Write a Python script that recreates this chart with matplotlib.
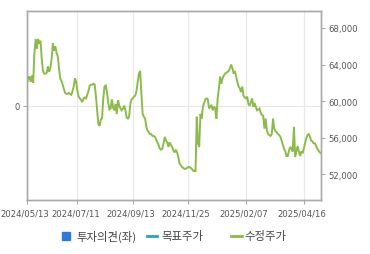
import matplotlib
matplotlib.use("Agg")
import matplotlib.pyplot as plt
import matplotlib.transforms as mtransforms
from matplotlib.patches import Rectangle
from matplotlib.lines import Line2D

# ---- data ----
prices = [
    61900, 62500, 62700, 62100, 62800, 62000, 65200, 66800, 65700, 66800,
    66300, 66600, 64600, 63300, 63000, 63000, 63100, 63800, 63200, 63600,
    64600, 66300, 65500, 66000, 65300, 64900, 63600, 62500, 62200, 61800,
    61300, 60900, 60800, 60800, 60900, 60800, 60700, 61100, 61600, 62500,
    62100, 61100, 60500, 60300, 60100, 59900, 60300, 60400, 60300, 60700,
    61100, 61700, 61800, 61800, 61900, 61800, 60600, 59000, 57500, 57300,
    58000, 58100, 60300, 61600, 61700, 61000, 59900, 59100, 59200, 60200,
    59300, 59000, 59700, 58600, 60100, 59500, 59200, 59000, 59200, 59500,
    59000, 58200, 58100, 58300, 59700, 60200, 60300, 60500, 60600, 61100,
    62100, 63000, 63300, 60800, 58600, 58300, 58100, 57200, 56800, 56600,
    56400, 56400, 56200, 56200, 56100, 55800, 55500, 55200, 54800, 54700,
    54800, 55400, 56100, 55700, 55500, 55000, 55500, 55200, 55000, 54600,
    54400, 54700, 54400, 53900, 53200, 53000, 52800, 52700, 52600, 52600,
    52700, 52800, 52800, 52700, 52600, 52400, 52400, 52300, 58300, 55400,
    55000, 58600, 58100, 59400, 59800, 60200, 60300, 60200, 59200, 59400,
    59600, 59000, 59400, 59200, 58100, 60300, 61400, 62700, 61900, 62500,
    62800, 63000, 63100, 63200, 63300, 63600, 64000, 63600, 63000, 63300,
    62700, 62100, 61600, 61400, 61000, 61600, 60600, 60400, 60300, 60500,
    59700, 59500, 59900, 60300, 59400, 59800, 59400, 59000, 59100, 59200,
    58700, 58500, 58400, 57000, 58100, 56800, 56400, 56300, 56200, 56400,
    58100, 57000, 56700, 56600, 56400, 56300, 56100, 55700, 55200, 54800,
    54500, 54000, 54000, 54600, 55000, 54800, 54500, 57200, 53900, 54500,
    55100, 54500, 54000, 54500, 54300, 54800, 55400, 55900, 56300, 56400,
    56100, 55700, 55600, 55400, 55400, 55100, 54800, 54600, 54400, 54300,
]
tick_days = [0, 41, 86, 131, 178, 225]
tick_labels = ["2024/05/13", "2024/07/11", "2024/09/13",
               "2024/11/25", "2025/02/07", "2025/04/16"]
right_ticks = [52000, 56000, 60000, 64000, 68000]
legend_labels = ["투자의견(좌)", "목표주가", "수정주가"]

GREEN = "#8cbb4b"
BLUE = "#2f7bd9"
TEAL = "#2aa3b5"
SPINE = "#aaaaaa"
GRID = "#e8e8e8"
TXT = "#555555"

plt.rcParams["font.family"] = ["DejaVu Sans"]

fig = plt.figure(figsize=(3.7, 2.55), dpi=100)
ax = fig.add_axes([27 / 370, 54 / 255, 294 / 370, 189 / 255])
ax.set_ylim(-1, 1)
ax.set_yticks([0])
ax.set_yticklabels(["0"])
ax.set_xlim(0, len(prices) - 1)
ax.set_xticks(tick_days)
ax.set_xticklabels(tick_labels)
ax.grid(True, color=GRID, linewidth=0.9)
ax.set_axisbelow(True)

ax2 = ax.twinx()
days = list(range(len(prices)))
ax2.plot(days, prices, color=GREEN, linewidth=1.4, solid_joinstyle="miter")
ax2.set_ylim(49200, 69850)
ax2.set_yticks(right_ticks)
ax2.set_yticklabels([f"{v:,}" for v in right_ticks])
ax2.set_xlim(0, len(prices) - 1)

for a in (ax, ax2):
    for s in a.spines.values():
        s.set_color(SPINE)
        s.set_linewidth(1.0)
    a.tick_params(colors=SPINE, labelcolor=TXT, labelsize=6.1, length=3,
                  width=0.8, pad=2)
ax.tick_params(axis="x", pad=3)

shift = mtransforms.ScaledTranslation(-2 / 100, 0, fig.dpi_scale_trans)
for lbl in ax.get_xticklabels():
    lbl.set_transform(lbl.get_transform() + shift)

# legend drawn at the bottom
ly = 18 / 255
kfam = ["Noto Sans CJK KR", "DejaVu Sans"]
fig.patches.append(Rectangle((62 / 370, 14 / 255), 8 / 370, 8 / 255,
                             transform=fig.transFigure, color=BLUE))
fig.text(76 / 370, ly, legend_labels[0], fontsize=8.2, color="#444444",
         va="center", ha="left", family=kfam)
fig.lines.append(Line2D([147 / 370, 157 / 370], [ly, ly],
                        transform=fig.transFigure, color=TEAL, linewidth=2))
fig.text(161 / 370, ly, legend_labels[1], fontsize=8.2, color="#444444",
         va="center", ha="left", family=kfam)
fig.lines.append(Line2D([231 / 370, 242 / 370], [ly, ly],
                        transform=fig.transFigure, color=GREEN, linewidth=2))
fig.text(244 / 370, ly, legend_labels[2], fontsize=8.2, color="#444444",
         va="center", ha="left", family=kfam)

fig.savefig("out.png", dpi=100)
